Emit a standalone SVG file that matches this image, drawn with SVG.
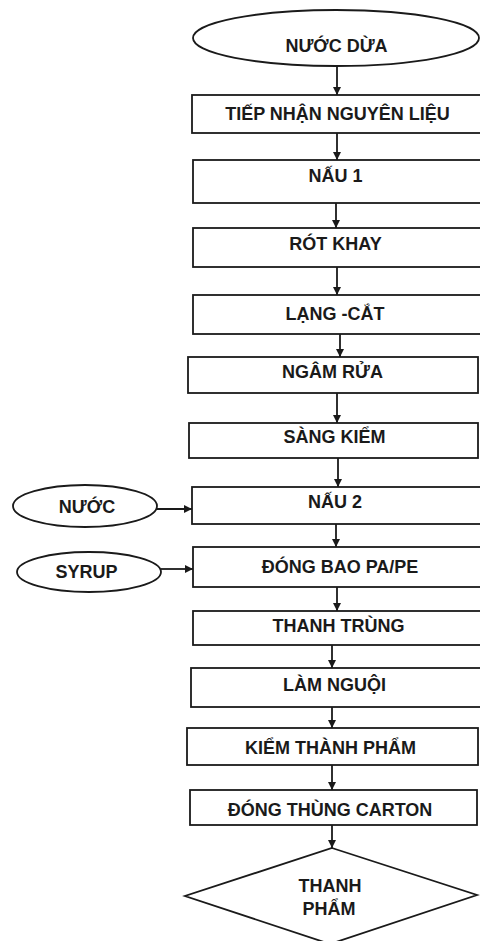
<svg xmlns="http://www.w3.org/2000/svg" width="480" height="941" viewBox="0 0 480 941">
<defs>
<style>
.n{fill:#fff;stroke:#1a1a1a;stroke-width:1.8}
.t{font-family:"Liberation Sans",Arial,sans-serif;font-weight:bold;font-size:18px;fill:#1a1a1a;text-anchor:middle}
.c{stroke:#1a1a1a;stroke-width:1.8;fill:none}
</style>
<marker id="ah" viewBox="0 0 10 10" refX="10" refY="5" markerWidth="8" markerHeight="8" orient="auto" markerUnits="userSpaceOnUse">
<path d="M0,0 L10,5 L0,10 z" fill="#1a1a1a"/>
</marker>
</defs>
<rect width="480" height="941" fill="#fff"/>
<g id="n-nuoc-dua"><ellipse class="n" cx="336" cy="38" rx="143" ry="28"/><text class="t" x="336.5" y="52">NƯỚC DỪA</text></g>
<g id="n-tiep-nhan"><rect class="n" x="192" y="95" width="292" height="38"/><text class="t" x="337.5" y="120">TIẾP NHẬN NGUYÊN LIỆU</text></g>
<g id="n-nau-1"><rect class="n" x="193" y="160" width="291" height="43"/><text class="t" x="335.5" y="182">NẤU 1</text></g>
<g id="n-rot-khay"><rect class="n" x="193" y="228" width="291" height="39"/><text class="t" x="335.5" y="250">RÓT KHAY</text></g>
<g id="n-lang-cat"><rect class="n" x="193" y="295" width="291" height="39"/><text class="t" x="335" y="320">LẠNG -CẮT</text></g>
<g id="n-ngam-rua"><rect class="n" x="188" y="357" width="290" height="36"/><text class="t" x="332.5" y="378">NGÂM RỬA</text></g>
<g id="n-sang-kiem"><rect class="n" x="189" y="423" width="289" height="35"/><text class="t" x="334.5" y="443">SÀNG KIỂM</text></g>
<g id="n-nau-2"><rect class="n" x="192" y="487" width="292" height="37"/><text class="t" x="335" y="508">NẤU 2</text></g>
<g id="n-nuoc"><ellipse class="n" cx="85" cy="506" rx="72" ry="21"/><text class="t" x="87" y="513">NƯỚC</text></g>
<g id="n-dong-bao"><rect class="n" x="193" y="547" width="291" height="40"/><text class="t" x="340" y="573">ĐÓNG BAO PA/PE</text></g>
<g id="n-syrup"><ellipse class="n" cx="89" cy="572" rx="72" ry="20"/><text class="t" x="86.5" y="578">SYRUP</text></g>
<g id="n-thanh-trung"><rect class="n" x="193" y="611" width="291" height="34"/><text class="t" x="338.5" y="632">THANH TRÙNG</text></g>
<g id="n-lam-nguoi"><rect class="n" x="191" y="668" width="293" height="39"/><text class="t" x="334.5" y="691">LÀM NGUỘI</text></g>
<g id="n-kiem-thanh-pham"><rect class="n" x="187" y="728" width="291" height="37"/><text class="t" x="330.5" y="754">KIỂM THÀNH PHẨM</text></g>
<g id="n-dong-thung"><rect class="n" x="190" y="790" width="287" height="35"/><text class="t" x="330" y="816">ĐÓNG THÙNG CARTON</text></g>
<g id="n-thanh-pham"><polygon class="n" points="332,848 477,895 330,944 185,896"/><text class="t" x="330" y="892">THANH</text><text class="t" x="329" y="915">PHẨM</text></g>
<g id="connectors">
<line class="c" x1="337" y1="66" x2="337" y2="95" marker-end="url(#ah)"/>
<line class="c" x1="337" y1="133" x2="337" y2="160" marker-end="url(#ah)"/>
<line class="c" x1="336" y1="203" x2="336" y2="228" marker-end="url(#ah)"/>
<line class="c" x1="337" y1="267" x2="337" y2="295" marker-end="url(#ah)"/>
<line class="c" x1="340" y1="334" x2="340" y2="357" marker-end="url(#ah)"/>
<line class="c" x1="337" y1="393" x2="337" y2="423" marker-end="url(#ah)"/>
<line class="c" x1="338" y1="458" x2="338" y2="487" marker-end="url(#ah)"/>
<line class="c" x1="336" y1="524" x2="336" y2="547" marker-end="url(#ah)"/>
<line class="c" x1="337" y1="587" x2="337" y2="611" marker-end="url(#ah)"/>
<line class="c" x1="332" y1="645" x2="332" y2="668" marker-end="url(#ah)"/>
<line class="c" x1="332" y1="707" x2="332" y2="728" marker-end="url(#ah)"/>
<line class="c" x1="332" y1="765" x2="332" y2="790" marker-end="url(#ah)"/>
<line class="c" x1="332" y1="825" x2="332" y2="848" marker-end="url(#ah)"/>
<line class="c" x1="157" y1="509" x2="192" y2="509" marker-end="url(#ah)"/>
<line class="c" x1="161" y1="569" x2="193" y2="569" marker-end="url(#ah)"/>
</g>
</svg>
